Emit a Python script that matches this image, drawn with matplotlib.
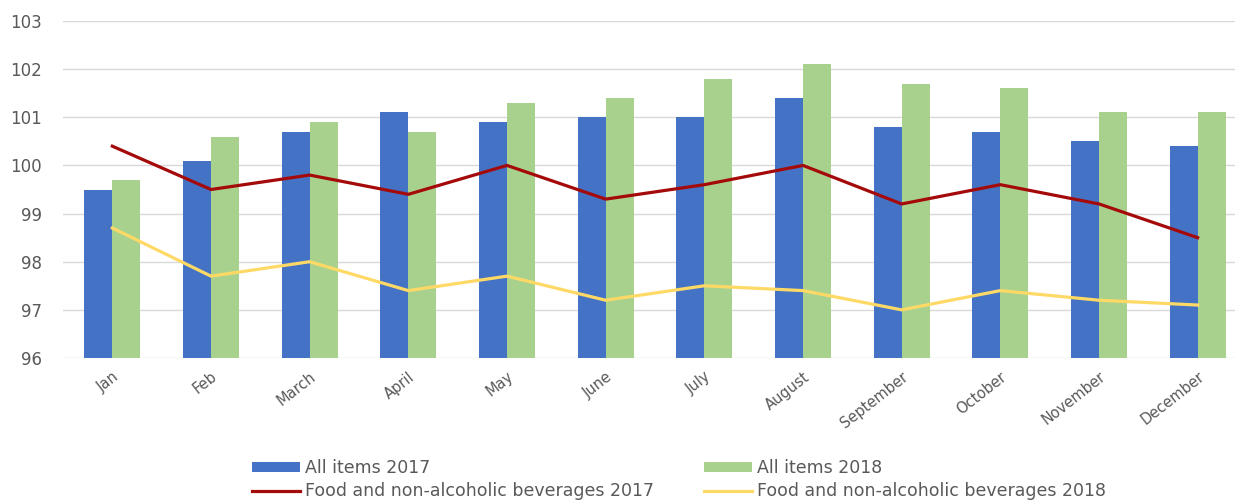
import matplotlib
matplotlib.use("Agg")
import matplotlib.pyplot as plt
import numpy as np

months = ["Jan", "Feb", "March", "April", "May", "June", "July", "August",
          "September", "October", "November", "December"]
all_items_2017 = [99.5, 100.1, 100.7, 101.1, 100.9, 101.0, 101.0, 101.4, 100.8, 100.7, 100.5, 100.4]
all_items_2018 = [99.7, 100.6, 100.9, 100.7, 101.3, 101.4, 101.8, 102.1, 101.7, 101.6, 101.1, 101.1]
food_2017 = [100.4, 99.5, 99.8, 99.4, 100.0, 99.3, 99.6, 100.0, 99.2, 99.6, 99.2, 98.5]
food_2018 = [98.7, 97.7, 98.0, 97.4, 97.7, 97.2, 97.5, 97.4, 97.0, 97.4, 97.2, 97.1]
yticks = [96, 97, 98, 99, 100, 101, 102, 103]

plt.rcParams['font.family'] = ['DejaVu Sans']
W, H = 1235, 501
fig = plt.figure(figsize=(W/100, H/100), dpi=100)
ax = fig.add_axes([63/W, 1-358/H, 1184/W, (358-21)/H])

x = np.arange(len(months))
w = 0.285
base = 96
b1 = ax.bar(x - w/2, np.array(all_items_2017) - base, w, bottom=base, color="#4472C4", label="All items 2017", zorder=2)
b2 = ax.bar(x + w/2, np.array(all_items_2018) - base, w, bottom=base, color="#A9D18E", label="All items 2018", zorder=2)
l1, = ax.plot(x, food_2017, color="#A50A0A", lw=2.3, label="Food and non-alcoholic beverages 2017", zorder=3)
l2, = ax.plot(x, food_2018, color="#FFD966", lw=2.3, label="Food and non-alcoholic beverages 2018", zorder=3)

ax.set_xlim(-0.5, 11.5)
ax.set_ylim(96, 103)
ax.set_yticks(yticks)
ax.yaxis.grid(True, color="#D9D9D9", lw=1, zorder=0)
ax.set_axisbelow(True)
for s in ax.spines.values():
    s.set_visible(False)
ax.tick_params(axis='y', length=0, pad=15, labelsize=12, labelcolor="#595959")
ax.tick_params(axis='x', length=0, pad=8, labelsize=10.5, labelcolor="#595959")
ax.set_xticks(x)
ax.set_xticklabels(months, rotation=38, ha="right", rotation_mode="anchor")

fig.legend([b1, l1, b2, l2],
           ["All items 2017", "Food and non-alcoholic beverages 2017",
            "All items 2018", "Food and non-alcoholic beverages 2018"],
           ncol=2, loc="upper left", bbox_to_anchor=(252/W, 1-459/H),
           frameon=False, fontsize=12.5, labelcolor="#595959",
           handlelength=2.76, handleheight=0.5, handletextpad=0.3, columnspacing=2.87,
           labelspacing=0.3, borderaxespad=0, borderpad=0)

fig.savefig("out.png", dpi=100)
